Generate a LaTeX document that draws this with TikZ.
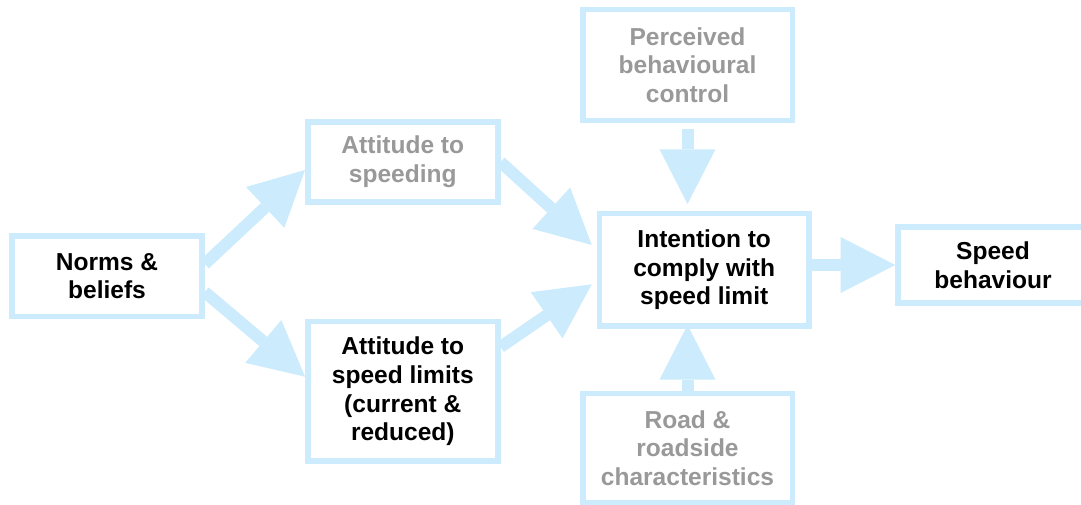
\documentclass[tikz,border=0pt]{standalone}
\usepackage{fontspec}
\setmainfont{Liberation Sans}
\usetikzlibrary{positioning,backgrounds,arrows.meta}
\definecolor{accent}{RGB}{204,235,252}
\definecolor{faded}{RGB}{153,153,153}

\begin{document}
\begin{tikzpicture}[
  x = 0.75pt,
  y = -0.75pt,
  box/.style = {
    draw = accent,
    line width = 4.1pt,
    rectangle,
    fill = white,
    align = center,
    inner sep = 0pt,
    font = \fontsize{18.4}{21.5}\selectfont\bfseries,
    minimum width = 142.5pt,
    minimum height = 60.5pt,
  },
  wide/.style = {
    box,
    minimum width = 157.1pt,
  },
  grey/.style = {
    text = faded,
  },
  flow/.style = {
    draw = accent,
    line width = 9pt,
    -{Triangle[length=41pt,width=42pt,line width=0pt]},
  },
]

  \useasboundingbox (0,0) rectangle (1081,505);
  \clip (0,0) rectangle (1081,505);

  \node[box] (norms) at (107,276.3) {Norms \&\\beliefs};
  \node[box,grey,minimum height=60.3pt] (speeding) at (402.8,162) {Attitude to\\speeding};
  \node[box,minimum height=104.6pt] (limits) at (402.8,391.5) {Attitude to\\speed limits\\(current \&\\reduced)};

  \node[wide,minimum height=84.6pt] (intention) at (704.2,269.8) {Intention to\\comply with\\speed limit};
  \node[wide,grey,minimum height=83.5pt] (perceived) at (687.5,65) {Perceived\\behavioural\\control};
  \node[wide,grey,minimum height=81.75pt] (road) at (687.5,448) {Road \&\\roadside\\characteristics};

  \node[box,minimum height=57.3pt] (speed) at (993,265) {Speed\\behaviour};

  \begin{scope}[on background layer]
    \draw[flow] ([yshift=9.2pt]norms.east) -- ([yshift=-6pt]speeding.west);
    \draw[flow] ([yshift=-11.8pt]norms.east) -- ([yshift=11.1pt]limits.west);

    \draw[flow] (speeding.east) -- ([xshift=-3.75pt,yshift=18.6pt]intention.west);
    \draw[flow] ([yshift=33.4pt]limits.east) -- ([xshift=-3.75pt,yshift=-10.9pt]intention.west);

    \draw[flow,shorten <=4pt,shorten >=5pt] (perceived.south) -- (perceived.south |- intention.north);
    \draw[flow,shorten >=-3pt] (road.north) -- (road.north |- intention.south);

    \draw[flow] (intention.east |- speed.west) -- (speed.west);
  \end{scope}

\end{tikzpicture}
\end{document}
